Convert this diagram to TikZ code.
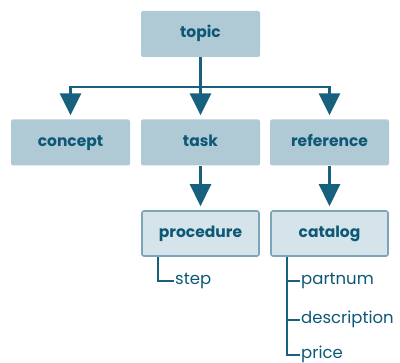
\documentclass[tikz,border=0pt]{standalone}
\usepackage{fontspec}
\setmainfont{Poppins}
\usetikzlibrary{arrows.meta}
\definecolor{boxfill}{HTML}{AFC9D5}
\definecolor{lightfill}{HTML}{D5E3EA}
\definecolor{lightdraw}{HTML}{7DA5B9}
\definecolor{ink}{HTML}{0D5877}
\definecolor{wire}{HTML}{17607E}
\tikzset{
  topicbox/.style={fill=boxfill, rounded corners=2pt, minimum width=119pt, minimum height=46pt,
    text=ink, font=\fontsize{15.5}{17}\selectfont\bfseries, inner sep=0pt,
    text height=11pt, text depth=3pt},
  specbox/.style={topicbox, fill=lightfill, draw=lightdraw, line width=1.6pt, minimum width=117pt, minimum height=45pt},
  wire/.style={draw=wire, line width=2.6pt},
  arr/.style={wire, shorten >=4pt, -{Triangle[width=21pt,length=22pt]}},
  item/.style={text=ink, font=\fontsize{16.5}{18}\selectfont, inner sep=1pt, anchor=west,
    text height=11pt, text depth=4pt},
}
\begin{document}
\begin{tikzpicture}[x=1pt,y=-1pt]
  \useasboundingbox (0,0) rectangle (400,363);
  % top level
  \node [topicbox] (topic) at (200.5,34) {topic};
  % second row
  \node [topicbox] (concept) at (70.5,142.5) {concept};
  \node [topicbox] (task) at (200.5,142.5) {task};
  \node [topicbox] (reference) at (329.5,142.5) {reference};
  % third row
  \node [specbox] (procedure) at (200.5,233.5) {procedure};
  \node [specbox] (catalog) at (329.5,233.5) {catalog};
  % fork
  \coordinate (fork) at (200.5,87);
  \draw [wire] (topic.south) -- (fork);
  \draw [arr] (fork) -| (concept.north);
  \draw [arr] (fork) -- (task.north);
  \draw [arr] (fork) -| (reference.north);
  \draw [arr] (task.south) -- (procedure.north);
  \draw [arr] (reference.south) -- (catalog.north);
  % children
  \node [item] (step) at (174,281) {step};
  \node [item] (partnum) at (300,281) {partnum};
  \node [item] (description) at (300,320) {description};
  \node [item] (price) at (300,355) {price};
  \coordinate (procroot) at (157.5,257);
  \coordinate (catroot) at (286.5,257);
  \draw [wire, line width=2pt] (procroot) |- (step.west);
  \draw [wire, line width=2pt] (catroot) |- (price.west);
  \draw [wire, line width=2pt] (catroot |- partnum.west) -- (partnum.west);
  \draw [wire, line width=2pt] (catroot |- description.west) -- (description.west);
\end{tikzpicture}
\end{document}
